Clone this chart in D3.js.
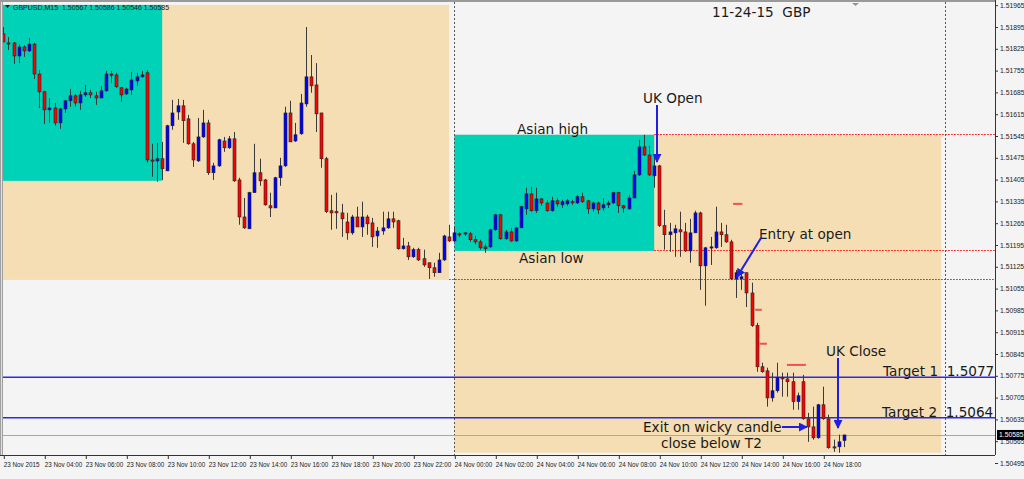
<!DOCTYPE html>
<html><head><meta charset="utf-8">
<script src="https://cdn.jsdelivr.net/npm/d3@7"></script>
<style>body{margin:0;background:#f4f4f4;overflow:hidden}svg{display:block}</style>
</head><body><svg id="c" width="1024" height="479"></svg>
<script>
// ---- DATA (GBPUSD M15, bar 0 = 23 Nov 02:00) ----
const symbol = "GBPUSD,M15";
const openP = [1.51873,1.51844,1.51844,1.51802,1.51831,1.51818,1.51840,1.51744,1.51687,1.51629,
1.51635,1.51587,1.51632,1.51658,1.51674,1.51651,1.51677,1.51684,1.51674,1.51667,
1.51690,1.51744,1.51741,1.51700,1.51680,1.51693,1.51722,1.51735,1.51748,1.51468,
1.51465,1.51472,1.51433,1.51578,1.51622,1.51642,1.51600,1.51520,1.51465,1.51542,
1.51587,1.51427,1.51449,1.51529,1.51507,1.51536,1.51404,1.51285,1.51247,1.51363,
1.51427,1.51404,1.51321,1.51314,1.51411,1.51449,1.51619,1.51529,1.51552,1.51648,
1.51735,1.51709,1.51619,1.51472,1.51305,1.51302,1.51298,1.51269,1.51234,1.51285,
1.51253,1.51285,1.51266,1.51224,1.51240,1.51250,1.51279,1.51273,1.51183,1.51192,
1.51157,1.51180,1.51151,1.51138,1.51122,1.51106,1.51147,1.51221,1.51208,1.51231,
1.51231,1.51231,1.51212,1.51205,1.51189,1.51189,1.51244,1.51292,1.51215,1.51237,
1.51208,1.51250,1.51311,1.51359,1.51305,1.51343,1.51330,1.51305,1.51337,1.51324,
1.51327,1.51334,1.51330,1.51350,1.51337,1.51311,1.51330,1.51314,1.51324,1.51330,
1.51363,1.51321,1.51311,1.51346,1.51420,1.51510,1.51484,1.51417,1.51449,1.51257,
1.51228,1.51234,1.51244,1.51237,1.51176,1.51234,1.51298,1.51128,1.51186,1.51186,
1.51237,1.51228,1.51205,1.51086,1.51086,1.51106,1.51041,1.50936,1.50804,1.50791,
1.50704,1.50727,1.50769,1.50765,1.50756,1.50692,1.50756,1.50637,1.50611,1.50576,
1.50682,1.50637,1.50547,1.50547,1.50567];
const highP = [1.51895,1.51863,1.51847,1.51840,1.51837,1.51860,1.51844,1.51757,1.51690,1.51667,
1.51651,1.51635,1.51661,1.51696,1.51680,1.51690,1.51709,1.51693,1.51687,1.51706,
1.51754,1.51754,1.51748,1.51703,1.51700,1.51751,1.51748,1.51754,1.51757,1.51520,
1.51523,1.51526,1.51581,1.51661,1.51664,1.51661,1.51613,1.51526,1.51603,1.51629,
1.51597,1.51459,1.51536,1.51542,1.51545,1.51558,1.51411,1.51346,1.51366,1.51520,
1.51472,1.51407,1.51363,1.51414,1.51475,1.51639,1.51658,1.51587,1.51680,1.51895,
1.51805,1.51779,1.51619,1.51478,1.51356,1.51363,1.51327,1.51298,1.51292,1.51318,
1.51334,1.51292,1.51282,1.51253,1.51302,1.51302,1.51302,1.51276,1.51218,1.51205,
1.51186,1.51186,1.51180,1.51138,1.51138,1.51170,1.51228,1.51260,1.51253,1.51237,
1.51237,1.51237,1.51224,1.51212,1.51199,1.51247,1.51295,1.51295,1.51244,1.51250,
1.51253,1.51321,1.51379,1.51382,1.51379,1.51346,1.51340,1.51350,1.51346,1.51340,
1.51343,1.51340,1.51356,1.51363,1.51340,1.51334,1.51334,1.51346,1.51337,1.51366,
1.51366,1.51324,1.51356,1.51433,1.51533,1.51549,1.51513,1.51478,1.51452,1.51308,
1.51266,1.51260,1.51302,1.51266,1.51279,1.51305,1.51302,1.51189,1.51221,1.51318,
1.51266,1.51260,1.51212,1.51115,1.51106,1.51106,1.51074,1.50945,1.50817,1.50801,
1.50785,1.50817,1.50785,1.50785,1.50785,1.50721,1.50778,1.50656,1.50676,1.50685,
1.50740,1.50650,1.50570,1.50586,1.50586];
const lowP = [1.51847,1.51821,1.51776,1.51779,1.51799,1.51815,1.51728,1.51635,1.51584,1.51587,
1.51578,1.51568,1.51619,1.51639,1.51639,1.51629,1.51671,1.51667,1.51645,1.51667,
1.51687,1.51716,1.51700,1.51655,1.51677,1.51677,1.51706,1.51732,1.51459,1.51414,
1.51398,1.51404,1.51433,1.51565,1.51597,1.51523,1.51517,1.51446,1.51462,1.51539,
1.51420,1.51404,1.51446,1.51494,1.51504,1.51398,1.51260,1.51247,1.51247,1.51363,
1.51385,1.51321,1.51285,1.51314,1.51385,1.51446,1.51526,1.51526,1.51549,1.51639,
1.51684,1.51558,1.51443,1.51298,1.51244,1.51247,1.51221,1.51212,1.51228,1.51253,
1.51221,1.51228,1.51189,1.51186,1.51228,1.51247,1.51250,1.51180,1.51180,1.51147,
1.51154,1.51144,1.51125,1.51086,1.51093,1.51106,1.51144,1.51205,1.51205,1.51221,
1.51224,1.51205,1.51196,1.51180,1.51170,1.51186,1.51240,1.51212,1.51212,1.51205,
1.51205,1.51250,1.51292,1.51302,1.51298,1.51321,1.51302,1.51302,1.51318,1.51314,
1.51321,1.51324,1.51327,1.51330,1.51295,1.51302,1.51295,1.51305,1.51314,1.51327,
1.51298,1.51298,1.51308,1.51346,1.51417,1.51481,1.51417,1.51379,1.51253,1.51180,
1.51173,1.51157,1.51157,1.51173,1.51138,1.51234,1.51051,1.51000,1.51131,1.51183,
1.51189,1.51202,1.51083,1.51025,1.51051,1.50996,1.50932,1.50788,1.50785,1.50676,
1.50692,1.50721,1.50708,1.50708,1.50666,1.50666,1.50634,1.50563,1.50570,1.50573,
1.50634,1.50541,1.50531,1.50528,1.50546];
const closeP = [1.51847,1.51842,1.51802,1.51831,1.51818,1.51840,1.51744,1.51687,1.51629,1.51635,
1.51587,1.51632,1.51658,1.51674,1.51651,1.51677,1.51684,1.51677,1.51667,1.51690,
1.51744,1.51741,1.51703,1.51677,1.51696,1.51725,1.51735,1.51741,1.51468,1.51467,
1.51472,1.51440,1.51578,1.51619,1.51642,1.51594,1.51520,1.51468,1.51542,1.51587,
1.51427,1.51449,1.51533,1.51507,1.51536,1.51401,1.51285,1.51250,1.51363,1.51427,
1.51401,1.51324,1.51314,1.51411,1.51449,1.51619,1.51526,1.51549,1.51651,1.51735,
1.51706,1.51616,1.51472,1.51302,1.51298,1.51299,1.51279,1.51234,1.51285,1.51253,
1.51285,1.51263,1.51221,1.51240,1.51250,1.51279,1.51269,1.51183,1.51192,1.51157,
1.51180,1.51147,1.51131,1.51122,1.51106,1.51147,1.51224,1.51208,1.51234,1.51230,
1.51234,1.51212,1.51205,1.51186,1.51183,1.51244,1.51292,1.51215,1.51237,1.51208,
1.51250,1.51318,1.51359,1.51305,1.51343,1.51330,1.51305,1.51337,1.51327,1.51334,
1.51337,1.51333,1.51350,1.51334,1.51311,1.51330,1.51308,1.51324,1.51330,1.51363,
1.51321,1.51314,1.51346,1.51420,1.51510,1.51484,1.51420,1.51449,1.51257,1.51228,
1.51237,1.51247,1.51237,1.51176,1.51234,1.51298,1.51128,1.51186,1.51189,1.51237,
1.51228,1.51205,1.51086,1.51106,1.51093,1.51041,1.50936,1.50804,1.50788,1.50704,
1.50727,1.50769,1.50765,1.50756,1.50692,1.50711,1.50637,1.50611,1.50576,1.50682,
1.50637,1.50544,1.50544,1.50563,1.50585];

const timeTickBars = [0,8,16,24,32,40,48,56,64,72,80,88,96,104,112,120,128,136,144,152,160];
const timeLabels = ["23 Nov 2015","23 Nov 04:00","23 Nov 06:00","23 Nov 08:00","23 Nov 10:00",
 "23 Nov 12:00","23 Nov 14:00","23 Nov 16:00","23 Nov 18:00","23 Nov 20:00","23 Nov 22:00",
 "24 Nov 00:00","24 Nov 02:00","24 Nov 04:00","24 Nov 06:00","24 Nov 08:00","24 Nov 10:00",
 "24 Nov 12:00","24 Nov 14:00","24 Nov 16:00","24 Nov 18:00"];
const priceTicks = [1.50495,1.50565,1.50635,1.50705,1.50775,1.50845,1.50915,1.50985,1.51055,1.51125,
 1.51195,1.51265,1.51335,1.51405,1.51475,1.51545,1.51615,1.51685,1.51755,1.51825,1.51895,1.51965];

// rectangles (bar index from/to, price top/bottom)
const boxNames  = ["session1","asian1","session2","asian2"];
const boxFrom   = [-2, -2, 88, 88];
const boxTo     = [87, 31, 183, 127];
const boxTop    = [1.51966, 1.51966, 1.51549, 1.51549];
const boxBottom = [1.51083, 1.51401, 1.50528, 1.51176];
// red dotted level lines
const levelPrice = [1.51549, 1.51176, 1.51083];
const levelFrom  = [127, 127, 87];
// blue target lines
const targetNames  = ["Target 1", "Target 2"];
const targetPrices = [1.5077, 1.5064];
// short red marks
const markFrom  = [142.4, 146.7, 147.6, 152.9];
const markTo    = [144.2, 148.0, 149.0, 156.6];
const markPrice = [1.51327, 1.50987, 1.50878, 1.50810];
// vertical separators (bar index)
const vLines = [88, 183.8];

// ---- DRAW ----
const svg = d3.select("#c");
const plotL = 3, plotR = 995, plotT = 2, plotB = 455;
const x = d3.scaleLinear().domain([0, 164]).range([3.3, 843.8]);
const y = d3.scaleLinear().domain([1.50495, 1.51965]).range([463, 5.2]);
const n = closeP.length;
const bars = d3.range(n).map(i => ({i, o: openP[i], h: highP[i], l: lowP[i], c: closeP[i]}));

svg.append("rect").attr("width",1024).attr("height",479).attr("fill","#f4f4f4");
svg.append("defs").append("clipPath").attr("id","clip").append("rect")
  .attr("x",plotL).attr("y",plotT).attr("width",plotR-plotL).attr("height",plotB-plotT);
const g = svg.append("g").attr("clip-path","url(#clip)");

const boxColor = {session1:"#f5deb3", session2:"#f5deb3", asian1:"#00d2b8", asian2:"#00d2b8"};
g.selectAll("rect.box").data(boxNames).join("rect").attr("class","box")
  .attr("x",(d,i)=>x(boxFrom[i])).attr("width",(d,i)=>x(boxTo[i])-x(boxFrom[i]))
  .attr("y",(d,i)=>y(boxTop[i])).attr("height",(d,i)=>y(boxBottom[i])-y(boxTop[i]))
  .attr("fill",d=>boxColor[d]);

g.selectAll("line.vsep").data(vLines).join("line").attr("class","vsep")
  .attr("x1",d=>Math.round(x(d))+0.5).attr("x2",d=>Math.round(x(d))+0.5)
  .attr("y1",plotT).attr("y2",plotB).attr("stroke","#555").attr("stroke-dasharray","2,2");

g.selectAll("line.level").data(levelPrice).join("line").attr("class","level")
  .attr("x1",(d,i)=>x(levelFrom[i])).attr("x2",plotR)
  .attr("y1",d=>Math.floor(y(d))+0.5).attr("y2",d=>Math.floor(y(d))+0.5)
  .attr("stroke","#ff0000").attr("stroke-width",1).attr("stroke-dasharray","1.5,1.5");

g.selectAll("line.target").data(targetPrices).join("line").attr("class","target")
  .attr("x1",plotL).attr("x2",plotR)
  .attr("y1",d=>y(d)).attr("y2",d=>y(d)).attr("stroke","#2b2bf0").attr("stroke-width",1.5);

// bid line
g.append("line").attr("x1",plotL).attr("x2",plotR)
  .attr("y1",Math.round(y(closeP[n-1]))+0.5).attr("y2",Math.round(y(closeP[n-1]))+0.5)
  .attr("stroke","#a8a8a8");

g.selectAll("line.mark").data(markPrice).join("line").attr("class","mark")
  .attr("x1",(d,i)=>x(markFrom[i])).attr("x2",(d,i)=>x(markTo[i]))
  .attr("y1",d=>y(d)).attr("y2",d=>y(d)).attr("stroke","#f05050").attr("stroke-width",2);

// candles
const cg = g.append("g");
cg.selectAll("line.wick").data(bars).join("line").attr("class","wick")
  .attr("x1",d=>Math.round(x(d.i))+0.5).attr("x2",d=>Math.round(x(d.i))+0.5)
  .attr("y1",d=>y(d.h)).attr("y2",d=>y(d.l)).attr("stroke","#3a3a3a").attr("stroke-width",1);
cg.selectAll("rect.body").data(bars).join("rect").attr("class","body")
  .attr("x",d=>Math.round(x(d.i))-1).attr("width",3)
  .attr("y",d=>y(Math.max(d.o,d.c)))
  .attr("height",d=>Math.max(1.2, Math.abs(y(d.o)-y(d.c))))
  .attr("fill",d=>d.c>d.o?"#0000ff":(d.c<d.o?"#ff0000":"#222"))
  .attr("stroke","#222").attr("stroke-width",0.6);

// annotations
const fontA = "'DejaVu Sans', Verdana, sans-serif";
const ann = svg.append("g").attr("font-family",fontA).attr("font-size","13.6px").attr("fill","#1a1a1a");
const texts = [
  ["11-24-15  GBP",712,17],["UK Open",643,103],["Asian high",517,134],["Asian low",519,263],
  ["Entry at open",759,239],["UK Close",826,356],
  [targetNames[0]+"  "+targetPrices[0].toFixed(4),883,376],[targetNames[1]+"  "+targetPrices[1].toFixed(4),882,417],
  ["Exit on wicky candle",643,432],["close below T2",661,448]];
ann.selectAll("text").data(texts).join("text").attr("x",d=>d[1]).attr("y",d=>d[2])
  .attr("xml:space","preserve").style("white-space","pre").text(d=>d[0]);

const defs = svg.select("defs");
defs.append("marker").attr("id","ah").attr("viewBox","0 0 10 10").attr("refX",9).attr("refY",5)
  .attr("markerWidth",4.5).attr("markerHeight",4.5).attr("orient","auto")
  .append("path").attr("d","M0,0L10,5L0,10Z").attr("fill","#1e1ee6");
const arrows = [[657,105,657,162],[761,238,737,277],[782,427,807,427],[838,358,838,428]];
svg.selectAll("line.arrow").data(arrows).join("line").attr("class","arrow")
  .attr("x1",d=>d[0]).attr("y1",d=>d[1]).attr("x2",d=>d[2]).attr("y2",d=>d[3])
  .attr("stroke","#1e1ee6").attr("stroke-width",2).attr("marker-end","url(#ah)");

// header
const fmt5 = d3.format(".5f");
svg.append("path").attr("d","M5,5L10,5L7.5,8Z").attr("fill","#222");
svg.append("text").attr("x",13).attr("y",9.5).attr("font-family","'Liberation Sans', Arial, sans-serif")
  .attr("font-size","7px").attr("fill","#1a1a1a").attr("xml:space","preserve")
  .text(`${symbol}  ${fmt5(openP[n-1])} ${fmt5(highP[n-1])} ${fmt5(lowP[n-1])} ${fmt5(closeP[n-1])}`);
svg.append("path").attr("d","M852,3L859,3L855.5,6Z").attr("fill","#8a96a0");

// borders
svg.append("rect").attr("x",0).attr("y",0).attr("width",3).attr("height",plotB).attr("fill","#a0a0a0");
svg.append("line").attr("x1",1.5).attr("x2",1.5).attr("y1",0).attr("y2",plotB).attr("stroke","#e0e0e0");
svg.append("line").attr("x1",0).attr("x2",plotR).attr("y1",1).attr("y2",1).attr("stroke","#9a9a9a").attr("stroke-width",2);

// axes
const axFont = "'Liberation Sans', Arial, sans-serif";
const xAxis = svg.append("g").attr("transform",`translate(0,${plotB})`)
  .call(d3.axisBottom(x).tickValues(timeTickBars).tickSize(4).tickFormat((d,i)=>timeLabels[i]));
xAxis.select(".domain").remove();
xAxis.selectAll(".tick line").attr("stroke","#333").attr("transform","translate(0.5,0)");
xAxis.selectAll(".tick text").attr("text-anchor","start").attr("x",0).attr("dy","0.9em").attr("y",6)
  .attr("font-family",axFont).attr("font-size","6.3px").attr("fill","#222");
const yAxis = svg.append("g").attr("transform",`translate(${plotR},0)`)
  .call(d3.axisRight(y).tickValues(priceTicks).tickSize(3).tickFormat(fmt5));
yAxis.select(".domain").remove();
yAxis.selectAll(".tick line").attr("stroke","#333");
yAxis.selectAll(".tick text").attr("x",5).attr("font-family",axFont).attr("font-size","6.8px").attr("fill","#222");
svg.append("line").attr("x1",plotR+0.5).attr("x2",plotR+0.5).attr("y1",0).attr("y2",plotB).attr("stroke","#333");
svg.append("line").attr("x1",0).attr("x2",plotR).attr("y1",plotB+0.5).attr("y2",plotB+0.5).attr("stroke","#333");

// current price tag
const cy = y(closeP[n-1]);
svg.append("rect").attr("x",plotR+2).attr("y",cy-5).attr("width",27).attr("height",10).attr("fill","#000");
svg.append("text").attr("x",plotR+4).attr("y",cy+2.4).attr("font-family",axFont).attr("font-size","6.8px")
  .attr("fill","#fff").text(fmt5(closeP[n-1]));
</script></body></html>
